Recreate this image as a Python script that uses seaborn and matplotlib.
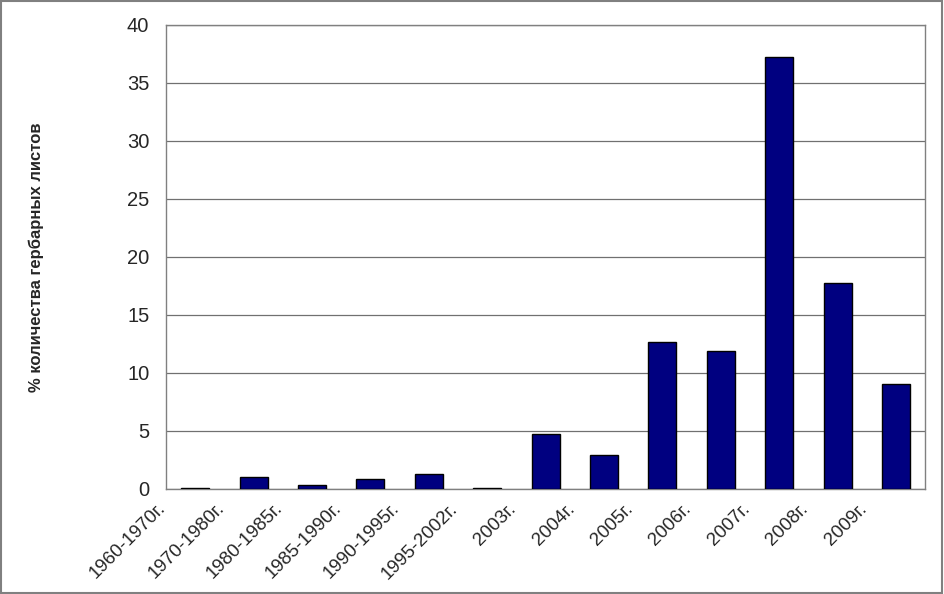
import pandas as pd
import numpy as np
import matplotlib.pyplot as plt
import matplotlib.transforms as mtransforms
import seaborn as sns

periods = ["1960-1970г.", "1970-1980г.", "1980-1985г.", "1985-1990г.", "1990-1995г.",
           "1995-2002г.", "2003г.", "2004г.", "2005г.", "2006г.", "2007г.", "2008г.", "2009г."]
shares = [0.1, 1.05, 0.32, 0.86, 1.3, 0.1, 4.72, 2.92, 12.68, 11.9, 37.2, 17.78, 9.05]

df = pd.DataFrame({"period": periods, "share": shares})

sns.set_style("white")
plt.rcParams['font.family'] = ['Liberation Sans', 'DejaVu Sans']

fig = plt.figure(figsize=(9.44, 5.94), dpi=100)
ax = fig.add_axes([0.1758, 0.1768, 0.8042, 0.7812])
sns.barplot(x="period", y="share", data=df, color='#000080', saturation=1,
            edgecolor='black', linewidth=1, width=0.48, ax=ax, zorder=3)

ax.set_ylim(0, 40)
ax.set_xlim(-0.5, len(periods) - 0.5)
ax.set_yticks(np.arange(0, 41, 5))
ax.yaxis.grid(True, color='#707070', linewidth=0.9, zorder=0)
for s in ax.spines.values():
    s.set_color('#808080')
    s.set_linewidth(1)
ax.tick_params(axis='y', direction='out', length=6, width=0.9, color='#808080', labelsize=14.5, pad=6)
ax.tick_params(axis='x', length=0, labelsize=13.5)

# tick marks on category boundaries
ax.set_xticks(np.arange(-0.5, len(periods), 1), minor=True)
ax.tick_params(axis='x', which='minor', direction='out', length=6, width=0.9, color='#808080')

ax.set_xticks(range(len(periods)))
ax.set_xticklabels(periods, rotation=45, ha='right', rotation_mode='anchor')
offset = mtransforms.ScaledTranslation(-38 / 100, -6 / 100, fig.dpi_scale_trans)
for lbl in ax.get_xticklabels():
    lbl.set_transform(lbl.get_transform() + offset)

ax.set_xlabel("")
ax.set_ylabel("% количества гербарных листов", fontsize=12, fontweight='bold', labelpad=60)

border = plt.Rectangle((0.001, 0.002), 0.997, 0.996, transform=fig.transFigure,
                       fill=False, edgecolor='#808080', linewidth=1.5)
fig.patches.append(border)

fig.savefig('out.png', dpi=100)
plt.close(fig)
